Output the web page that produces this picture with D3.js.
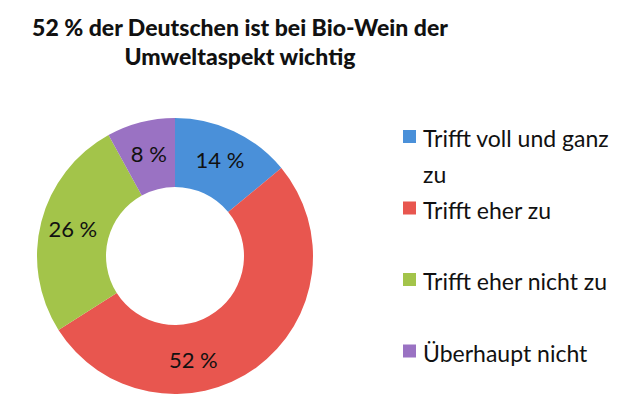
<!DOCTYPE html>
<html>
<head>
<meta charset="utf-8">
<script src="https://cdn.jsdelivr.net/npm/d3@7"></script>
<style>
  body { margin: 0; background: #fff; }
  text { font-family: Lato, "Open Sans", sans-serif; fill: #111; }
</style>
</head>
<body>
<svg width="643" height="402"></svg>
<script>
// data
var categories = ["Trifft voll und ganz zu", "Trifft eher zu", "Trifft eher nicht zu", "Überhaupt nicht"];
var values = [14, 52, 26, 8];
var colors = ["#4a90d9", "#e8564f", "#a3c44a", "#9a72c3"];
var titleLines = ["52 % der Deutschen ist bei Bio-Wein der", "Umweltaspekt wichtig"];
// legend lines (first entry wraps)
var legendLines = [["Trifft voll und ganz", "zu"], ["Trifft eher zu"], ["Trifft eher nicht zu"], ["Überhaupt nicht"]];
// label angle nudge in degrees (excel moved the big one)
var labelShift = [0, 26, 0, 0];

var svg = d3.select("svg"),
    width = +svg.attr("width"),
    height = +svg.attr("height");

var cx = 175, cy = 256, outerR = 138, innerR = 69;

svg.append("g")
    .selectAll("text")
    .data(titleLines)
    .enter().append("text")
    .attr("x", 240)
    .attr("y", function(d, i) { return 36 + i * 29; })
    .attr("text-anchor", "middle")
    .style("font-weight", "900")
    .style("font-size", "23px")
    .text(function(d) { return d; });

var pie = d3.pie().sort(null).value(function(d) { return d; });
var arc = d3.arc().innerRadius(innerR).outerRadius(outerR);
var arcs = pie(values);

var g = svg.append("g").attr("transform", "translate(" + cx + "," + cy + ")");

g.selectAll("path")
    .data(arcs)
    .enter().append("path")
    .attr("d", arc)
    .attr("fill", function(d, i) { return colors[i]; });

g.selectAll("text")
    .data(arcs)
    .enter().append("text")
    .attr("transform", function(d, i) {
        var a = (d.startAngle + d.endAngle) / 2 + labelShift[i] * Math.PI / 180;
        var r = (innerR + outerR) / 2 + 2;
        return "translate(" + (r * Math.sin(a)) + "," + (-r * Math.cos(a)) + ")";
    })
    .attr("text-anchor", "middle")
    .attr("dy", "0.35em")
    .style("font-size", "22px")
    .text(function(d) { return d.value + " %"; });

var legend = svg.append("g")
    .selectAll("g")
    .data(categories)
    .enter().append("g")
    .attr("transform", function(d, i) { return "translate(403," + (130 + i * 71.5) + ")"; });

legend.append("rect")
    .attr("width", 13)
    .attr("height", 13)
    .attr("fill", function(d, i) { return colors[i]; });

legend.append("text")
    .attr("x", 20)
    .attr("y", 17)
    .style("font-size", "23px")
    .selectAll("tspan")
    .data(function(d, i) { return legendLines[i]; })
    .enter().append("tspan")
    .attr("x", 20)
    .attr("dy", function(d, j) { return j === 0 ? 0 : 36; })
    .text(function(d) { return d; });
</script>
</body>
</html>
